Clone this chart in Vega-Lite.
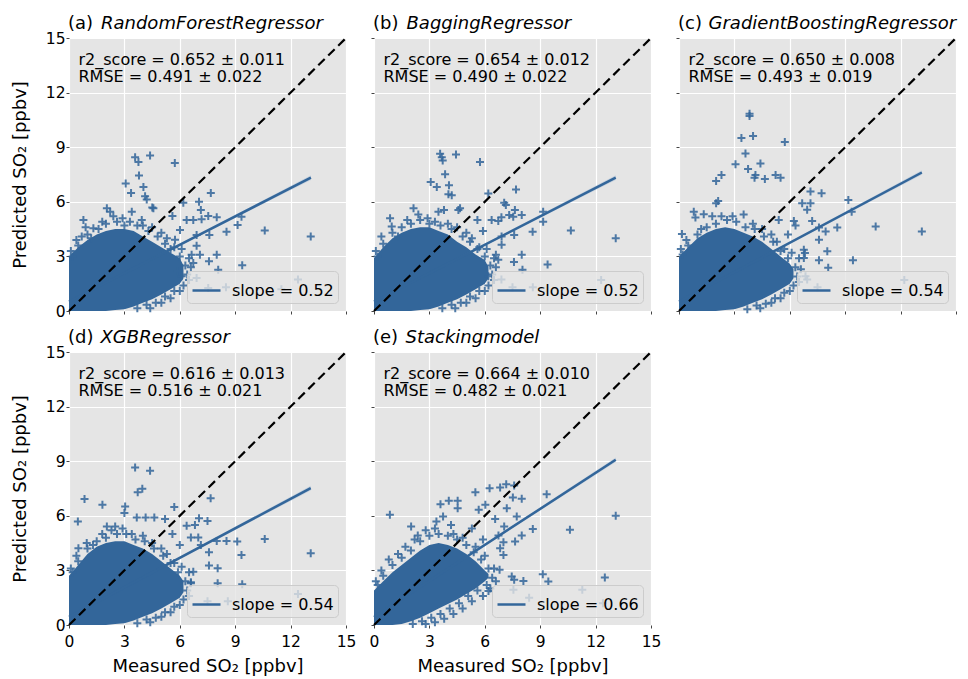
{
"$schema": "https://vega.github.io/schema/vega-lite/v6.json",
"background": "#ffffff",
"padding": {"left": 11, "top": 15, "right": 2, "bottom": 2},
"datasets": {
"ann": [
{"p":"a","tag":"(a)","name":"RandomForestRegressor","stats":"r2_score = 0.652 ± 0.011\nRMSE = 0.491 ± 0.022"},
{"p":"b","tag":"(b)","name":"BaggingRegressor","stats":"r2_score = 0.654 ± 0.012\nRMSE = 0.490 ± 0.022"},
{"p":"c","tag":"(c)","name":"GradientBoostingRegressor","stats":"r2_score = 0.650 ± 0.008\nRMSE = 0.493 ± 0.019"},
{"p":"d","tag":"(d)","name":"XGBRegressor","stats":"r2_score = 0.616 ± 0.013\nRMSE = 0.516 ± 0.021"},
{"p":"e","tag":"(e)","name":"Stackingmodel","stats":"r2_score = 0.664 ± 0.010\nRMSE = 0.482 ± 0.021"}
],
"reg": [
{"p":"a","x":0,"y":0.52,"lo":0.49,"hi":0.55,"s":"slope = 0.52"},
{"p":"a","x":1.5,"y":1.30,"lo":1.29,"hi":1.31,"s":"slope = 0.52"},
{"p":"a","x":13.1,"y":7.33,"lo":7.2,"hi":7.46,"s":"slope = 0.52"},
{"p":"b","x":0,"y":0.52,"lo":0.49,"hi":0.55,"s":"slope = 0.52"},
{"p":"b","x":1.5,"y":1.30,"lo":1.29,"hi":1.31,"s":"slope = 0.52"},
{"p":"b","x":13.09,"y":7.33,"lo":7.2,"hi":7.46,"s":"slope = 0.52"},
{"p":"c","x":0,"y":0.51,"lo":0.48,"hi":0.54,"s":"slope = 0.54"},
{"p":"c","x":1.5,"y":1.32,"lo":1.31,"hi":1.33,"s":"slope = 0.54"},
{"p":"c","x":13.15,"y":7.61,"lo":7.48,"hi":7.74,"s":"slope = 0.54"},
{"p":"d","x":0,"y":0.45,"lo":0.42,"hi":0.48,"s":"slope = 0.54"},
{"p":"d","x":1.5,"y":1.26,"lo":1.25,"hi":1.27,"s":"slope = 0.54"},
{"p":"d","x":13.09,"y":7.52,"lo":7.39,"hi":7.65,"s":"slope = 0.54"},
{"p":"e","x":0,"y":0.44,"lo":0.41,"hi":0.47,"s":"slope = 0.66"},
{"p":"e","x":1.5,"y":1.43,"lo":1.42,"hi":1.44,"s":"slope = 0.66"},
{"p":"e","x":13.09,"y":9.08,"lo":8.95,"hi":9.21,"s":"slope = 0.66"}
],
"core": [
{"p":"a","x":0,"lo":0,"hi":3.0},{"p":"a","x":0.5,"lo":0,"hi":3.5},{"p":"a","x":1,"lo":0,"hi":3.9},{"p":"a","x":1.5,"lo":0,"hi":4.2},{"p":"a","x":2,"lo":0,"hi":4.4},{"p":"a","x":2.5,"lo":0.05,"hi":4.5},{"p":"a","x":3,"lo":0.1,"hi":4.5},{"p":"a","x":3.5,"lo":0.25,"hi":4.4},{"p":"a","x":4,"lo":0.45,"hi":4.1},{"p":"a","x":4.5,"lo":0.65,"hi":3.8},{"p":"a","x":5,"lo":0.9,"hi":3.5},{"p":"a","x":5.5,"lo":1.2,"hi":3.2},{"p":"a","x":6,"lo":1.5,"hi":2.9},{"p":"a","x":6.2,"lo":1.8,"hi":2.5},
{"p":"b","x":0,"lo":0,"hi":2.9},{"p":"b","x":0.5,"lo":0,"hi":3.5},{"p":"b","x":1,"lo":0,"hi":4.0},{"p":"b","x":1.5,"lo":0,"hi":4.3},{"p":"b","x":2,"lo":0,"hi":4.5},{"p":"b","x":2.5,"lo":0.05,"hi":4.6},{"p":"b","x":3,"lo":0.1,"hi":4.6},{"p":"b","x":3.5,"lo":0.25,"hi":4.4},{"p":"b","x":4,"lo":0.45,"hi":4.2},{"p":"b","x":4.5,"lo":0.65,"hi":3.8},{"p":"b","x":5,"lo":0.9,"hi":3.5},{"p":"b","x":5.5,"lo":1.2,"hi":3.1},{"p":"b","x":6,"lo":1.5,"hi":2.8},{"p":"b","x":6.2,"lo":1.8,"hi":2.4},
{"p":"c","x":0,"lo":0,"hi":3.0},{"p":"c","x":0.5,"lo":0,"hi":3.5},{"p":"c","x":1,"lo":0,"hi":4.0},{"p":"c","x":1.5,"lo":0,"hi":4.3},{"p":"c","x":2,"lo":0,"hi":4.5},{"p":"c","x":2.5,"lo":0.05,"hi":4.6},{"p":"c","x":3,"lo":0.1,"hi":4.5},{"p":"c","x":3.5,"lo":0.25,"hi":4.3},{"p":"c","x":4,"lo":0.45,"hi":4.1},{"p":"c","x":4.5,"lo":0.65,"hi":3.8},{"p":"c","x":5,"lo":0.9,"hi":3.4},{"p":"c","x":5.5,"lo":1.2,"hi":3.0},{"p":"c","x":6,"lo":1.5,"hi":2.6},{"p":"c","x":6.2,"lo":1.8,"hi":2.3},
{"p":"d","x":0,"lo":0,"hi":2.7},{"p":"d","x":0.5,"lo":0,"hi":3.3},{"p":"d","x":1,"lo":0,"hi":3.9},{"p":"d","x":1.5,"lo":0,"hi":4.3},{"p":"d","x":2,"lo":0,"hi":4.5},{"p":"d","x":2.5,"lo":0.05,"hi":4.6},{"p":"d","x":3,"lo":0.1,"hi":4.6},{"p":"d","x":3.5,"lo":0.25,"hi":4.4},{"p":"d","x":4,"lo":0.45,"hi":4.2},{"p":"d","x":4.5,"lo":0.65,"hi":3.9},{"p":"d","x":5,"lo":0.9,"hi":3.5},{"p":"d","x":5.5,"lo":1.2,"hi":3.1},{"p":"d","x":6,"lo":1.5,"hi":2.7},{"p":"d","x":6.2,"lo":1.8,"hi":2.4},
{"p":"e","x":0,"lo":0,"hi":1.9},{"p":"e","x":0.5,"lo":0,"hi":2.4},{"p":"e","x":1,"lo":0,"hi":2.9},{"p":"e","x":1.5,"lo":0.05,"hi":3.3},{"p":"e","x":2,"lo":0.2,"hi":3.7},{"p":"e","x":2.5,"lo":0.4,"hi":4.1},{"p":"e","x":3,"lo":0.65,"hi":4.4},{"p":"e","x":3.5,"lo":0.9,"hi":4.5},{"p":"e","x":4,"lo":1.15,"hi":4.4},{"p":"e","x":4.5,"lo":1.4,"hi":4.2},{"p":"e","x":5,"lo":1.7,"hi":3.9},{"p":"e","x":5.5,"lo":2.0,"hi":3.5},{"p":"e","x":6,"lo":2.4,"hi":3.0},{"p":"e","x":6.2,"lo":2.6,"hi":2.8}
],
"pts": [
{"p":"a","x":3.58,"y":8.45},{"p":"a","x":4.39,"y":8.55},{"p":"a","x":3.76,"y":8.18},{"p":"a","x":5.73,"y":8.13},{"p":"a","x":3.79,"y":7.45},{"p":"a","x":3.07,"y":7.0},{"p":"a","x":3.36,"y":6.49},{"p":"a","x":4.03,"y":6.82},{"p":"a","x":4.12,"y":6.31},{"p":"a","x":4.21,"y":6.13},{"p":"a","x":7.68,"y":6.49},{"p":"a","x":6.19,"y":5.95},{"p":"a","x":7.04,"y":6.0},{"p":"a","x":7.14,"y":5.55},{"p":"a","x":4.57,"y":5.64},{"p":"a","x":7.54,"y":5.22},{"p":"a","x":8.0,"y":5.15},{"p":"a","x":6.37,"y":5.0},{"p":"a","x":6.73,"y":5.0},{"p":"a","x":7.18,"y":5.04},{"p":"a","x":9.34,"y":5.18},{"p":"a","x":9.13,"y":4.73},{"p":"a","x":8.53,"y":4.36},{"p":"a","x":10.6,"y":4.42},{"p":"a","x":13.09,"y":4.09},{"p":"a","x":7.6,"y":4.18},{"p":"a","x":6.91,"y":4.18},{"p":"a","x":6.91,"y":3.58},{"p":"a","x":6.64,"y":3.09},{"p":"a","x":7.09,"y":3.09},{"p":"a","x":8.0,"y":3.09},{"p":"a","x":7.58,"y":2.73},{"p":"a","x":6.73,"y":2.64},{"p":"a","x":8.08,"y":2.27},{"p":"a","x":9.38,"y":2.51},{"p":"a","x":6.1,"y":1.91},{"p":"a","x":6.91,"y":1.82},{"p":"a","x":7.54,"y":1.27},{"p":"a","x":12.4,"y":1.73},{"p":"a","x":8.5,"y":1.3},{"p":"a","x":11.5,"y":1.2},
{"p":"a","x":0.78,"y":5.0},{"p":"a","x":0.69,"y":4.09},{"p":"a","x":1.32,"y":4.55},{"p":"a","x":2.05,"y":5.64},{"p":"a","x":2.23,"y":5.45},{"p":"a","x":3.4,"y":5.45},{"p":"a","x":3.94,"y":5.0},{"p":"a","x":4.51,"y":5.69},{"p":"a","x":5.6,"y":5.22},{"p":"a","x":6.01,"y":4.45},{"p":"a","x":5.74,"y":3.91},{"p":"a","x":0.2,"y":3.0},{"p":"a","x":0.5,"y":3.6},{"p":"a","x":1.0,"y":4.2},{"p":"a","x":1.6,"y":4.5},{"p":"a","x":2.0,"y":4.8},{"p":"a","x":2.6,"y":4.9},{"p":"a","x":3.0,"y":4.7},{"p":"a","x":3.7,"y":4.7},{"p":"a","x":4.3,"y":4.4},{"p":"a","x":4.8,"y":4.1},{"p":"a","x":5.2,"y":3.7},{"p":"a","x":5.5,"y":3.4},{"p":"a","x":6.0,"y":3.0},{"p":"a","x":6.3,"y":2.5},{"p":"a","x":6.4,"y":2.0},{"p":"a","x":6.2,"y":1.4},{"p":"a","x":5.7,"y":1.1},{"p":"a","x":5.2,"y":0.8},{"p":"a","x":4.7,"y":0.45},{"p":"a","x":4.2,"y":0.35},{"p":"a","x":3.7,"y":0.15},{"p":"a","x":6.5,"y":2.9},{"p":"a","x":5.9,"y":2.2},
{"p":"a","x":0.1,"y":3.3},{"p":"a","x":0.4,"y":3.9},{"p":"a","x":0.9,"y":4.6},{"p":"a","x":1.2,"y":4.0},{"p":"a","x":1.8,"y":4.9},{"p":"a","x":2.4,"y":5.2},{"p":"a","x":2.9,"y":5.1},{"p":"a","x":3.3,"y":4.9},{"p":"a","x":4.0,"y":4.7},{"p":"a","x":4.5,"y":4.6},{"p":"a","x":5.0,"y":4.3},{"p":"a","x":5.3,"y":4.0},{"p":"a","x":5.7,"y":3.5},{"p":"a","x":6.1,"y":3.4},{"p":"a","x":6.6,"y":2.4},{"p":"a","x":6.5,"y":1.7},{"p":"a","x":6.0,"y":1.1},{"p":"a","x":5.5,"y":0.7},{"p":"a","x":5.0,"y":0.45},{"p":"a","x":4.4,"y":0.15},
{"p":"b","x":3.58,"y":8.64},{"p":"b","x":3.67,"y":8.45},{"p":"b","x":3.72,"y":8.27},{"p":"b","x":4.44,"y":8.6},{"p":"b","x":5.74,"y":8.18},{"p":"b","x":3.85,"y":7.51},{"p":"b","x":3.07,"y":7.09},{"p":"b","x":3.4,"y":6.82},{"p":"b","x":4.06,"y":6.91},{"p":"b","x":4.03,"y":6.42},{"p":"b","x":4.21,"y":6.36},{"p":"b","x":6.19,"y":6.45},{"p":"b","x":7.69,"y":6.67},{"p":"b","x":7.05,"y":5.95},{"p":"b","x":7.14,"y":5.82},{"p":"b","x":4.57,"y":5.55},{"p":"b","x":4.66,"y":5.64},{"p":"b","x":2.14,"y":5.64},{"p":"b","x":3.49,"y":5.45},{"p":"b","x":3.79,"y":5.55},{"p":"b","x":7.63,"y":5.55},{"p":"b","x":7.32,"y":5.27},{"p":"b","x":7.54,"y":5.18},{"p":"b","x":8.0,"y":5.27},{"p":"b","x":6.37,"y":5.0},{"p":"b","x":6.73,"y":4.95},{"p":"b","x":6.9,"y":5.15},{"p":"b","x":9.16,"y":5.45},{"p":"b","x":9.16,"y":4.91},{"p":"b","x":8.59,"y":4.36},{"p":"b","x":10.66,"y":4.42},{"p":"b","x":13.09,"y":4.0},{"p":"b","x":7.59,"y":4.18},{"p":"b","x":6.91,"y":4.09},{"p":"b","x":6.91,"y":3.64},{"p":"b","x":6.6,"y":3.09},{"p":"b","x":6.73,"y":2.82},{"p":"b","x":8.0,"y":3.09},{"p":"b","x":7.58,"y":2.69},{"p":"b","x":8.04,"y":2.27},{"p":"b","x":9.4,"y":2.55},{"p":"b","x":6.19,"y":1.91},{"p":"b","x":6.9,"y":1.73},{"p":"b","x":0.87,"y":5.09},{"p":"b","x":0.96,"y":4.64},{"p":"b","x":7.5,"y":1.3},{"p":"b","x":12.3,"y":1.7},{"p":"b","x":8.6,"y":1.3},
{"p":"b","x":0.2,"y":3.0},{"p":"b","x":0.5,"y":3.7},{"p":"b","x":1.0,"y":4.3},{"p":"b","x":1.5,"y":4.6},{"p":"b","x":2.0,"y":4.8},{"p":"b","x":2.5,"y":5.0},{"p":"b","x":3.0,"y":4.8},{"p":"b","x":3.6,"y":4.7},{"p":"b","x":4.2,"y":4.5},{"p":"b","x":4.8,"y":4.1},{"p":"b","x":5.2,"y":3.8},{"p":"b","x":5.6,"y":3.4},{"p":"b","x":6.0,"y":3.0},{"p":"b","x":6.3,"y":2.5},{"p":"b","x":6.4,"y":2.0},{"p":"b","x":6.2,"y":1.4},{"p":"b","x":5.7,"y":1.1},{"p":"b","x":5.2,"y":0.8},{"p":"b","x":4.7,"y":0.45},{"p":"b","x":4.2,"y":0.35},{"p":"b","x":3.7,"y":0.15},{"p":"b","x":5.6,"y":5.0},{"p":"b","x":5.9,"y":4.4},{"p":"b","x":6.5,"y":2.9},
{"p":"b","x":0.1,"y":3.3},{"p":"b","x":0.4,"y":4.1},{"p":"b","x":1.3,"y":4.1},{"p":"b","x":1.8,"y":5.0},{"p":"b","x":2.4,"y":5.3},{"p":"b","x":2.9,"y":5.1},{"p":"b","x":3.3,"y":4.9},{"p":"b","x":4.0,"y":4.8},{"p":"b","x":4.5,"y":4.6},{"p":"b","x":5.0,"y":4.3},{"p":"b","x":5.3,"y":4.0},{"p":"b","x":5.7,"y":3.5},{"p":"b","x":6.1,"y":3.4},{"p":"b","x":6.6,"y":2.4},{"p":"b","x":6.5,"y":1.7},{"p":"b","x":6.0,"y":1.1},{"p":"b","x":5.5,"y":0.7},{"p":"b","x":5.0,"y":0.45},{"p":"b","x":4.4,"y":0.15},
{"p":"c","x":3.82,"y":10.84},{"p":"c","x":3.82,"y":10.71},{"p":"c","x":3.38,"y":9.51},{"p":"c","x":4.01,"y":9.62},{"p":"c","x":5.73,"y":9.29},{"p":"c","x":3.6,"y":8.65},{"p":"c","x":3.06,"y":8.07},{"p":"c","x":4.41,"y":8.11},{"p":"c","x":3.74,"y":7.8},{"p":"c","x":4.14,"y":7.47},{"p":"c","x":4.09,"y":7.32},{"p":"c","x":4.65,"y":7.25},{"p":"c","x":5.23,"y":7.47},{"p":"c","x":5.5,"y":7.32},{"p":"c","x":2.01,"y":7.14},{"p":"c","x":2.3,"y":7.47},{"p":"c","x":7.12,"y":6.56},{"p":"c","x":7.72,"y":6.47},{"p":"c","x":9.17,"y":6.1},{"p":"c","x":6.67,"y":5.92},{"p":"c","x":7.12,"y":5.92},{"p":"c","x":6.94,"y":5.56},{"p":"c","x":2.01,"y":5.92},{"p":"c","x":2.12,"y":6.05},{"p":"c","x":0.8,"y":5.46},{"p":"c","x":1.34,"y":5.32},{"p":"c","x":0.89,"y":5.14},{"p":"c","x":9.35,"y":5.46},{"p":"c","x":6.22,"y":4.95},{"p":"c","x":6.31,"y":4.7},{"p":"c","x":7.21,"y":4.95},{"p":"c","x":8.57,"y":4.59},{"p":"c","x":10.65,"y":4.64},{"p":"c","x":13.15,"y":4.37},{"p":"c","x":7.58,"y":4.59},{"p":"c","x":7.94,"y":4.37},{"p":"c","x":7.58,"y":3.92},{"p":"c","x":0.16,"y":4.23},{"p":"c","x":6.76,"y":3.37},{"p":"c","x":6.82,"y":3.19},{"p":"c","x":8.03,"y":3.28},{"p":"c","x":6.76,"y":2.91},{"p":"c","x":7.58,"y":2.79},{"p":"c","x":9.42,"y":2.79},{"p":"c","x":8.08,"y":2.37},{"p":"c","x":6.85,"y":1.91},{"p":"c","x":6.94,"y":1.73},{"p":"c","x":7.5,"y":1.3},{"p":"c","x":12.2,"y":1.7},
{"p":"c","x":0.2,"y":3.1},{"p":"c","x":0.5,"y":3.6},{"p":"c","x":1.0,"y":4.2},{"p":"c","x":1.5,"y":4.6},{"p":"c","x":2.0,"y":4.8},{"p":"c","x":2.6,"y":5.0},{"p":"c","x":3.1,"y":4.9},{"p":"c","x":3.6,"y":4.6},{"p":"c","x":4.1,"y":4.5},{"p":"c","x":4.6,"y":4.1},{"p":"c","x":5.1,"y":3.8},{"p":"c","x":5.5,"y":3.3},{"p":"c","x":5.9,"y":2.9},{"p":"c","x":6.3,"y":2.4},{"p":"c","x":6.4,"y":1.9},{"p":"c","x":6.2,"y":1.4},{"p":"c","x":5.7,"y":1.0},{"p":"c","x":5.2,"y":0.7},{"p":"c","x":4.7,"y":0.4},{"p":"c","x":4.2,"y":0.3},{"p":"c","x":3.7,"y":0.1},{"p":"c","x":5.4,"y":5.0},{"p":"c","x":5.9,"y":4.2},{"p":"c","x":6.5,"y":2.9},{"p":"c","x":3.5,"y":5.3},{"p":"c","x":1.8,"y":5.2},
{"p":"c","x":0.1,"y":3.4},{"p":"c","x":0.4,"y":3.9},{"p":"c","x":1.2,"y":4.5},{"p":"c","x":2.3,"y":5.2},{"p":"c","x":2.9,"y":5.2},{"p":"c","x":4.0,"y":4.8},{"p":"c","x":4.5,"y":4.5},{"p":"c","x":5.0,"y":4.2},{"p":"c","x":5.3,"y":3.8},{"p":"c","x":5.7,"y":3.4},{"p":"c","x":6.1,"y":3.2},{"p":"c","x":6.6,"y":2.3},{"p":"c","x":6.5,"y":1.6},{"p":"c","x":6.0,"y":1.1},{"p":"c","x":5.5,"y":0.7},{"p":"c","x":5.0,"y":0.45},{"p":"c","x":4.4,"y":0.15},
{"p":"d","x":3.58,"y":8.66},{"p":"d","x":4.39,"y":8.48},{"p":"d","x":3.97,"y":7.49},{"p":"d","x":3.72,"y":7.3},{"p":"d","x":0.84,"y":6.92},{"p":"d","x":1.81,"y":6.61},{"p":"d","x":3.04,"y":6.51},{"p":"d","x":3.0,"y":6.15},{"p":"d","x":5.7,"y":6.48},{"p":"d","x":7.67,"y":6.97},{"p":"d","x":0.48,"y":5.69},{"p":"d","x":7.04,"y":5.87},{"p":"d","x":7.5,"y":5.72},{"p":"d","x":6.37,"y":5.45},{"p":"d","x":6.82,"y":5.5},{"p":"d","x":3.67,"y":5.91},{"p":"d","x":4.15,"y":5.91},{"p":"d","x":4.62,"y":5.91},{"p":"d","x":5.2,"y":5.83},{"p":"d","x":2.05,"y":5.41},{"p":"d","x":2.5,"y":5.41},{"p":"d","x":6.6,"y":4.81},{"p":"d","x":7.0,"y":4.81},{"p":"d","x":7.14,"y":4.4},{"p":"d","x":8.0,"y":4.62},{"p":"d","x":8.53,"y":4.62},{"p":"d","x":9.11,"y":4.59},{"p":"d","x":10.6,"y":4.73},{"p":"d","x":13.09,"y":3.94},{"p":"d","x":7.58,"y":4.0},{"p":"d","x":9.34,"y":3.85},{"p":"d","x":7.58,"y":3.27},{"p":"d","x":8.05,"y":3.12},{"p":"d","x":6.73,"y":2.92},{"p":"d","x":6.6,"y":2.35},{"p":"d","x":8.05,"y":2.29},{"p":"d","x":9.38,"y":2.24},{"p":"d","x":0.51,"y":4.22},{"p":"d","x":0.96,"y":4.5},{"p":"d","x":7.5,"y":1.3},{"p":"d","x":12.4,"y":1.7},{"p":"d","x":8.6,"y":1.3},
{"p":"d","x":0.2,"y":2.9},{"p":"d","x":0.5,"y":3.5},{"p":"d","x":1.0,"y":4.2},{"p":"d","x":1.5,"y":4.6},{"p":"d","x":2.0,"y":4.8},{"p":"d","x":2.6,"y":5.0},{"p":"d","x":3.1,"y":5.0},{"p":"d","x":3.6,"y":4.7},{"p":"d","x":4.1,"y":4.6},{"p":"d","x":4.6,"y":4.2},{"p":"d","x":5.1,"y":3.8},{"p":"d","x":5.5,"y":3.4},{"p":"d","x":5.9,"y":2.9},{"p":"d","x":6.3,"y":2.4},{"p":"d","x":6.4,"y":1.9},{"p":"d","x":6.2,"y":1.4},{"p":"d","x":5.7,"y":1.0},{"p":"d","x":5.2,"y":0.7},{"p":"d","x":4.7,"y":0.4},{"p":"d","x":4.2,"y":0.3},{"p":"d","x":3.7,"y":0.1},{"p":"d","x":5.6,"y":5.0},{"p":"d","x":6.0,"y":4.4},{"p":"d","x":6.5,"y":2.9},
{"p":"d","x":0.1,"y":3.1},{"p":"d","x":0.4,"y":3.8},{"p":"d","x":1.3,"y":4.4},{"p":"d","x":1.8,"y":5.0},{"p":"d","x":2.3,"y":5.2},{"p":"d","x":2.9,"y":5.3},{"p":"d","x":3.4,"y":5.0},{"p":"d","x":4.0,"y":4.9},{"p":"d","x":4.5,"y":4.5},{"p":"d","x":5.0,"y":4.2},{"p":"d","x":5.3,"y":3.9},{"p":"d","x":5.7,"y":3.4},{"p":"d","x":6.1,"y":3.2},{"p":"d","x":6.6,"y":2.3},{"p":"d","x":6.5,"y":1.6},{"p":"d","x":6.0,"y":1.1},{"p":"d","x":5.5,"y":0.7},{"p":"d","x":5.0,"y":0.45},{"p":"d","x":4.4,"y":0.15},
{"p":"e","x":0.86,"y":6.06},{"p":"e","x":2.01,"y":5.41},{"p":"e","x":2.37,"y":4.92},{"p":"e","x":3.6,"y":6.64},{"p":"e","x":4.05,"y":6.83},{"p":"e","x":4.53,"y":6.83},{"p":"e","x":4.53,"y":6.42},{"p":"e","x":3.74,"y":5.96},{"p":"e","x":4.17,"y":5.5},{"p":"e","x":3.38,"y":5.69},{"p":"e","x":5.49,"y":7.3},{"p":"e","x":6.26,"y":7.52},{"p":"e","x":6.83,"y":7.56},{"p":"e","x":7.16,"y":7.74},{"p":"e","x":7.59,"y":7.67},{"p":"e","x":7.52,"y":7.01},{"p":"e","x":8.0,"y":6.94},{"p":"e","x":6.03,"y":6.61},{"p":"e","x":5.67,"y":6.33},{"p":"e","x":7.19,"y":6.42},{"p":"e","x":7.73,"y":5.96},{"p":"e","x":9.35,"y":7.19},{"p":"e","x":10.61,"y":5.23},{"p":"e","x":13.09,"y":6.0},{"p":"e","x":6.56,"y":5.83},{"p":"e","x":7.05,"y":5.41},{"p":"e","x":8.6,"y":5.28},{"p":"e","x":8.0,"y":4.92},{"p":"e","x":7.64,"y":4.59},{"p":"e","x":7.01,"y":4.55},{"p":"e","x":6.74,"y":4.92},{"p":"e","x":6.83,"y":4.22},{"p":"e","x":7.01,"y":3.85},{"p":"e","x":6.8,"y":3.03},{"p":"e","x":7.46,"y":2.66},{"p":"e","x":7.59,"y":2.48},{"p":"e","x":8.09,"y":2.42},{"p":"e","x":9.14,"y":2.79},{"p":"e","x":9.44,"y":2.39},{"p":"e","x":12.5,"y":2.61},{"p":"e","x":11.28,"y":1.93},{"p":"e","x":6.2,"y":1.87},{"p":"e","x":7.55,"y":1.93},{"p":"e","x":8.4,"y":1.5},{"p":"e","x":12.4,"y":1.2},
{"p":"e","x":0.2,"y":2.2},{"p":"e","x":0.5,"y":2.7},{"p":"e","x":1.0,"y":3.3},{"p":"e","x":1.5,"y":3.7},{"p":"e","x":2.0,"y":4.1},{"p":"e","x":2.5,"y":4.6},{"p":"e","x":3.0,"y":4.9},{"p":"e","x":3.5,"y":5.0},{"p":"e","x":4.0,"y":4.9},{"p":"e","x":4.5,"y":4.7},{"p":"e","x":5.0,"y":4.4},{"p":"e","x":5.4,"y":4.0},{"p":"e","x":5.8,"y":3.6},{"p":"e","x":6.2,"y":3.1},{"p":"e","x":6.4,"y":2.6},{"p":"e","x":6.1,"y":2.2},{"p":"e","x":5.6,"y":1.9},{"p":"e","x":5.1,"y":1.6},{"p":"e","x":4.6,"y":1.2},{"p":"e","x":4.1,"y":0.9},{"p":"e","x":3.6,"y":0.6},{"p":"e","x":3.1,"y":0.4},{"p":"e","x":2.6,"y":0.2},{"p":"e","x":2.1,"y":0.05},{"p":"e","x":5.3,"y":5.3},{"p":"e","x":5.9,"y":4.7},
{"p":"e","x":0.1,"y":2.4},{"p":"e","x":0.4,"y":3.0},{"p":"e","x":0.8,"y":3.6},{"p":"e","x":1.3,"y":3.9},{"p":"e","x":1.7,"y":4.3},{"p":"e","x":2.2,"y":4.7},{"p":"e","x":2.8,"y":5.2},{"p":"e","x":3.3,"y":5.3},{"p":"e","x":4.3,"y":5.0},{"p":"e","x":4.8,"y":4.8},{"p":"e","x":5.5,"y":4.3},{"p":"e","x":6.0,"y":3.8},{"p":"e","x":6.5,"y":3.1},{"p":"e","x":6.6,"y":2.4},{"p":"e","x":6.3,"y":2.0},{"p":"e","x":5.9,"y":1.6},{"p":"e","x":5.3,"y":1.3},{"p":"e","x":4.8,"y":0.9},{"p":"e","x":4.3,"y":0.6},{"p":"e","x":3.8,"y":0.35},{"p":"e","x":3.3,"y":0.15},{"p":"e","x":2.8,"y":0.05}
]
},
"columns": 3,
"spacing": {"row": 41, "column": 28},
"bounds": "flush",
"resolve": {"scale": {"color": "independent"}, "legend": {"color": "independent"}},
"concat": [
{"width": 277, "height": 273, "layer": [
{"data": {"name": "core"}, "transform": [{"filter": "datum.p === 'a'"}], "mark": {"type": "area", "color": "#33669a"}, "encoding": {"x": {"field": "x", "type": "quantitative", "scale": {"domain": [0, 15], "nice": false}, "axis": {"values": [0,3,6,9,12,15], "labels": false, "title": null}}, "y": {"field": "hi", "type": "quantitative", "scale": {"domain": [0, 15], "nice": false}, "axis": {"values": [0,3,6,9,12,15], "title": "Predicted SO₂ [ppbv]"}}, "y2": {"field": "lo"}}},
{"data": {"name": "pts"}, "transform": [{"filter": "datum.p === 'a'"}], "mark": {"type": "point", "shape": "M-1,0H1M0,-1V1", "filled": false, "color": "#33669a", "strokeWidth": 2, "size": 64, "opacity": 0.85}, "encoding": {"x": {"field": "x", "type": "quantitative"}, "y": {"field": "y", "type": "quantitative"}}},
{"data": {"name": "reg"}, "transform": [{"filter": "datum.p === 'a'"}], "mark": {"type": "area", "color": "#8fb0d0", "opacity": 0.35}, "encoding": {"x": {"field": "x", "type": "quantitative"}, "y": {"field": "lo", "type": "quantitative"}, "y2": {"field": "hi"}}},
{"data": {"name": "reg"}, "transform": [{"filter": "datum.p === 'a'"}], "mark": {"type": "line", "strokeWidth": 2.5}, "encoding": {"x": {"field": "x", "type": "quantitative"}, "y": {"field": "y", "type": "quantitative"}, "color": {"field": "s", "type": "nominal", "scale": {"range": ["#33669a"]}, "legend": {"title": null, "orient": "bottom-right", "offset": 8, "padding": 4, "fillColor": "rgba(229,229,229,0.8)", "strokeColor": "#cccccc", "cornerRadius": 4, "symbolType": "stroke", "symbolSize": 784, "symbolStrokeWidth": 2.5, "labelFont": "DejaVu Sans", "labelFontSize": 16, "labelColor": "#000000", "labelOffset": 10, "labelLimit": 300}}}},
{"data": {"values": [{}]}, "mark": {"type": "rule", "color": "#000000", "strokeWidth": 2.2, "strokeDash": [9, 5]}, "encoding": {"x": {"datum": 0}, "y": {"datum": 0}, "x2": {"datum": 15}, "y2": {"datum": 15}}},
{"data": {"name": "ann"}, "transform": [{"filter": "datum.p === 'a'"}], "mark": {"type": "text", "align": "left", "baseline": "top", "fontSize": 16, "lineHeight": 17, "lineBreak": "\n", "dx": 9.5, "dy": 13.5, "color": "#000000"}, "encoding": {"x": {"datum": 0}, "y": {"datum": 15}, "text": {"field": "stats"}}},
{"data": {"name": "ann"}, "transform": [{"filter": "datum.p === 'a'"}], "mark": {"type": "text", "align": "left", "baseline": "alphabetic", "fontSize": 18, "dx": -1, "dy": -9, "color": "#000000"}, "encoding": {"x": {"datum": 0}, "y": {"datum": 15}, "text": {"field": "tag"}}},
{"data": {"name": "ann"}, "transform": [{"filter": "datum.p === 'a'"}], "mark": {"type": "text", "align": "left", "baseline": "alphabetic", "fontSize": 18, "fontStyle": "italic", "dx": 32, "dy": -9, "color": "#000000"}, "encoding": {"x": {"datum": 0}, "y": {"datum": 15}, "text": {"field": "name"}}}
]},
{"width": 277, "height": 273, "layer": [
{"data": {"name": "core"}, "transform": [{"filter": "datum.p === 'b'"}], "mark": {"type": "area", "color": "#33669a"}, "encoding": {"x": {"field": "x", "type": "quantitative", "scale": {"domain": [0, 15], "nice": false}, "axis": {"values": [0,3,6,9,12,15], "labels": false, "title": null}}, "y": {"field": "hi", "type": "quantitative", "scale": {"domain": [0, 15], "nice": false}, "axis": {"values": [0,3,6,9,12,15], "labels": false, "title": null}}, "y2": {"field": "lo"}}},
{"data": {"name": "pts"}, "transform": [{"filter": "datum.p === 'b'"}], "mark": {"type": "point", "shape": "M-1,0H1M0,-1V1", "filled": false, "color": "#33669a", "strokeWidth": 2, "size": 64, "opacity": 0.85}, "encoding": {"x": {"field": "x", "type": "quantitative"}, "y": {"field": "y", "type": "quantitative"}}},
{"data": {"name": "reg"}, "transform": [{"filter": "datum.p === 'b'"}], "mark": {"type": "area", "color": "#8fb0d0", "opacity": 0.35}, "encoding": {"x": {"field": "x", "type": "quantitative"}, "y": {"field": "lo", "type": "quantitative"}, "y2": {"field": "hi"}}},
{"data": {"name": "reg"}, "transform": [{"filter": "datum.p === 'b'"}], "mark": {"type": "line", "strokeWidth": 2.5}, "encoding": {"x": {"field": "x", "type": "quantitative"}, "y": {"field": "y", "type": "quantitative"}, "color": {"field": "s", "type": "nominal", "scale": {"range": ["#33669a"]}, "legend": {"title": null, "orient": "bottom-right", "offset": 8, "padding": 4, "fillColor": "rgba(229,229,229,0.8)", "strokeColor": "#cccccc", "cornerRadius": 4, "symbolType": "stroke", "symbolSize": 784, "symbolStrokeWidth": 2.5, "labelFont": "DejaVu Sans", "labelFontSize": 16, "labelColor": "#000000", "labelOffset": 10, "labelLimit": 300}}}},
{"data": {"values": [{}]}, "mark": {"type": "rule", "color": "#000000", "strokeWidth": 2.2, "strokeDash": [9, 5]}, "encoding": {"x": {"datum": 0}, "y": {"datum": 0}, "x2": {"datum": 15}, "y2": {"datum": 15}}},
{"data": {"name": "ann"}, "transform": [{"filter": "datum.p === 'b'"}], "mark": {"type": "text", "align": "left", "baseline": "top", "fontSize": 16, "lineHeight": 17, "lineBreak": "\n", "dx": 9.5, "dy": 13.5, "color": "#000000"}, "encoding": {"x": {"datum": 0}, "y": {"datum": 15}, "text": {"field": "stats"}}},
{"data": {"name": "ann"}, "transform": [{"filter": "datum.p === 'b'"}], "mark": {"type": "text", "align": "left", "baseline": "alphabetic", "fontSize": 18, "dx": -1, "dy": -9, "color": "#000000"}, "encoding": {"x": {"datum": 0}, "y": {"datum": 15}, "text": {"field": "tag"}}},
{"data": {"name": "ann"}, "transform": [{"filter": "datum.p === 'b'"}], "mark": {"type": "text", "align": "left", "baseline": "alphabetic", "fontSize": 18, "fontStyle": "italic", "dx": 32.5, "dy": -9, "color": "#000000"}, "encoding": {"x": {"datum": 0}, "y": {"datum": 15}, "text": {"field": "name"}}}
]},
{"width": 277, "height": 273, "layer": [
{"data": {"name": "core"}, "transform": [{"filter": "datum.p === 'c'"}], "mark": {"type": "area", "color": "#33669a"}, "encoding": {"x": {"field": "x", "type": "quantitative", "scale": {"domain": [0, 15], "nice": false}, "axis": {"values": [0,3,6,9,12,15], "labels": false, "title": null}}, "y": {"field": "hi", "type": "quantitative", "scale": {"domain": [0, 15], "nice": false}, "axis": {"values": [0,3,6,9,12,15], "labels": false, "title": null}}, "y2": {"field": "lo"}}},
{"data": {"name": "pts"}, "transform": [{"filter": "datum.p === 'c'"}], "mark": {"type": "point", "shape": "M-1,0H1M0,-1V1", "filled": false, "color": "#33669a", "strokeWidth": 2, "size": 64, "opacity": 0.85}, "encoding": {"x": {"field": "x", "type": "quantitative"}, "y": {"field": "y", "type": "quantitative"}}},
{"data": {"name": "reg"}, "transform": [{"filter": "datum.p === 'c'"}], "mark": {"type": "area", "color": "#8fb0d0", "opacity": 0.35}, "encoding": {"x": {"field": "x", "type": "quantitative"}, "y": {"field": "lo", "type": "quantitative"}, "y2": {"field": "hi"}}},
{"data": {"name": "reg"}, "transform": [{"filter": "datum.p === 'c'"}], "mark": {"type": "line", "strokeWidth": 2.5}, "encoding": {"x": {"field": "x", "type": "quantitative"}, "y": {"field": "y", "type": "quantitative"}, "color": {"field": "s", "type": "nominal", "scale": {"range": ["#33669a"]}, "legend": {"title": null, "orient": "bottom-right", "offset": 8, "padding": 4, "fillColor": "rgba(229,229,229,0.8)", "strokeColor": "#cccccc", "cornerRadius": 4, "symbolType": "stroke", "symbolSize": 784, "symbolStrokeWidth": 2.5, "labelFont": "DejaVu Sans", "labelFontSize": 16, "labelColor": "#000000", "labelOffset": 10, "labelLimit": 300}}}},
{"data": {"values": [{}]}, "mark": {"type": "rule", "color": "#000000", "strokeWidth": 2.2, "strokeDash": [9, 5]}, "encoding": {"x": {"datum": 0}, "y": {"datum": 0}, "x2": {"datum": 15}, "y2": {"datum": 15}}},
{"data": {"name": "ann"}, "transform": [{"filter": "datum.p === 'c'"}], "mark": {"type": "text", "align": "left", "baseline": "top", "fontSize": 16, "lineHeight": 17, "lineBreak": "\n", "dx": 9.5, "dy": 13.5, "color": "#000000"}, "encoding": {"x": {"datum": 0}, "y": {"datum": 15}, "text": {"field": "stats"}}},
{"data": {"name": "ann"}, "transform": [{"filter": "datum.p === 'c'"}], "mark": {"type": "text", "align": "left", "baseline": "alphabetic", "fontSize": 18, "dx": -1, "dy": -9, "color": "#000000"}, "encoding": {"x": {"datum": 0}, "y": {"datum": 15}, "text": {"field": "tag"}}},
{"data": {"name": "ann"}, "transform": [{"filter": "datum.p === 'c'"}], "mark": {"type": "text", "align": "left", "baseline": "alphabetic", "fontSize": 18, "fontStyle": "italic", "dx": 29.5, "dy": -9, "color": "#000000"}, "encoding": {"x": {"datum": 0}, "y": {"datum": 15}, "text": {"field": "name"}}}
]},
{"width": 277, "height": 273, "layer": [
{"data": {"name": "core"}, "transform": [{"filter": "datum.p === 'd'"}], "mark": {"type": "area", "color": "#33669a"}, "encoding": {"x": {"field": "x", "type": "quantitative", "scale": {"domain": [0, 15], "nice": false}, "axis": {"values": [0,3,6,9,12,15], "title": "Measured SO₂ [ppbv]"}}, "y": {"field": "hi", "type": "quantitative", "scale": {"domain": [0, 15], "nice": false}, "axis": {"values": [0,3,6,9,12,15], "title": "Predicted SO₂ [ppbv]"}}, "y2": {"field": "lo"}}},
{"data": {"name": "pts"}, "transform": [{"filter": "datum.p === 'd'"}], "mark": {"type": "point", "shape": "M-1,0H1M0,-1V1", "filled": false, "color": "#33669a", "strokeWidth": 2, "size": 64, "opacity": 0.85}, "encoding": {"x": {"field": "x", "type": "quantitative"}, "y": {"field": "y", "type": "quantitative"}}},
{"data": {"name": "reg"}, "transform": [{"filter": "datum.p === 'd'"}], "mark": {"type": "area", "color": "#8fb0d0", "opacity": 0.35}, "encoding": {"x": {"field": "x", "type": "quantitative"}, "y": {"field": "lo", "type": "quantitative"}, "y2": {"field": "hi"}}},
{"data": {"name": "reg"}, "transform": [{"filter": "datum.p === 'd'"}], "mark": {"type": "line", "strokeWidth": 2.5}, "encoding": {"x": {"field": "x", "type": "quantitative"}, "y": {"field": "y", "type": "quantitative"}, "color": {"field": "s", "type": "nominal", "scale": {"range": ["#33669a"]}, "legend": {"title": null, "orient": "bottom-right", "offset": 8, "padding": 4, "fillColor": "rgba(229,229,229,0.8)", "strokeColor": "#cccccc", "cornerRadius": 4, "symbolType": "stroke", "symbolSize": 784, "symbolStrokeWidth": 2.5, "labelFont": "DejaVu Sans", "labelFontSize": 16, "labelColor": "#000000", "labelOffset": 10, "labelLimit": 300}}}},
{"data": {"values": [{}]}, "mark": {"type": "rule", "color": "#000000", "strokeWidth": 2.2, "strokeDash": [9, 5]}, "encoding": {"x": {"datum": 0}, "y": {"datum": 0}, "x2": {"datum": 15}, "y2": {"datum": 15}}},
{"data": {"name": "ann"}, "transform": [{"filter": "datum.p === 'd'"}], "mark": {"type": "text", "align": "left", "baseline": "top", "fontSize": 16, "lineHeight": 17, "lineBreak": "\n", "dx": 9.5, "dy": 13.5, "color": "#000000"}, "encoding": {"x": {"datum": 0}, "y": {"datum": 15}, "text": {"field": "stats"}}},
{"data": {"name": "ann"}, "transform": [{"filter": "datum.p === 'd'"}], "mark": {"type": "text", "align": "left", "baseline": "alphabetic", "fontSize": 18, "dx": -1, "dy": -9, "color": "#000000"}, "encoding": {"x": {"datum": 0}, "y": {"datum": 15}, "text": {"field": "tag"}}},
{"data": {"name": "ann"}, "transform": [{"filter": "datum.p === 'd'"}], "mark": {"type": "text", "align": "left", "baseline": "alphabetic", "fontSize": 18, "fontStyle": "italic", "dx": 31.5, "dy": -9, "color": "#000000"}, "encoding": {"x": {"datum": 0}, "y": {"datum": 15}, "text": {"field": "name"}}}
]},
{"width": 277, "height": 273, "layer": [
{"data": {"name": "core"}, "transform": [{"filter": "datum.p === 'e'"}], "mark": {"type": "area", "color": "#33669a"}, "encoding": {"x": {"field": "x", "type": "quantitative", "scale": {"domain": [0, 15], "nice": false}, "axis": {"values": [0,3,6,9,12,15], "title": "Measured SO₂ [ppbv]"}}, "y": {"field": "hi", "type": "quantitative", "scale": {"domain": [0, 15], "nice": false}, "axis": {"values": [0,3,6,9,12,15], "labels": false, "title": null}}, "y2": {"field": "lo"}}},
{"data": {"name": "pts"}, "transform": [{"filter": "datum.p === 'e'"}], "mark": {"type": "point", "shape": "M-1,0H1M0,-1V1", "filled": false, "color": "#33669a", "strokeWidth": 2, "size": 64, "opacity": 0.85}, "encoding": {"x": {"field": "x", "type": "quantitative"}, "y": {"field": "y", "type": "quantitative"}}},
{"data": {"name": "reg"}, "transform": [{"filter": "datum.p === 'e'"}], "mark": {"type": "area", "color": "#8fb0d0", "opacity": 0.35}, "encoding": {"x": {"field": "x", "type": "quantitative"}, "y": {"field": "lo", "type": "quantitative"}, "y2": {"field": "hi"}}},
{"data": {"name": "reg"}, "transform": [{"filter": "datum.p === 'e'"}], "mark": {"type": "line", "strokeWidth": 2.5}, "encoding": {"x": {"field": "x", "type": "quantitative"}, "y": {"field": "y", "type": "quantitative"}, "color": {"field": "s", "type": "nominal", "scale": {"range": ["#33669a"]}, "legend": {"title": null, "orient": "bottom-right", "offset": 8, "padding": 4, "fillColor": "rgba(229,229,229,0.8)", "strokeColor": "#cccccc", "cornerRadius": 4, "symbolType": "stroke", "symbolSize": 784, "symbolStrokeWidth": 2.5, "labelFont": "DejaVu Sans", "labelFontSize": 16, "labelColor": "#000000", "labelOffset": 10, "labelLimit": 300}}}},
{"data": {"values": [{}]}, "mark": {"type": "rule", "color": "#000000", "strokeWidth": 2.2, "strokeDash": [9, 5]}, "encoding": {"x": {"datum": 0}, "y": {"datum": 0}, "x2": {"datum": 15}, "y2": {"datum": 15}}},
{"data": {"name": "ann"}, "transform": [{"filter": "datum.p === 'e'"}], "mark": {"type": "text", "align": "left", "baseline": "top", "fontSize": 16, "lineHeight": 17, "lineBreak": "\n", "dx": 9.5, "dy": 13.5, "color": "#000000"}, "encoding": {"x": {"datum": 0}, "y": {"datum": 15}, "text": {"field": "stats"}}},
{"data": {"name": "ann"}, "transform": [{"filter": "datum.p === 'e'"}], "mark": {"type": "text", "align": "left", "baseline": "alphabetic", "fontSize": 18, "dx": -1, "dy": -9, "color": "#000000"}, "encoding": {"x": {"datum": 0}, "y": {"datum": 15}, "text": {"field": "tag"}}},
{"data": {"name": "ann"}, "transform": [{"filter": "datum.p === 'e'"}], "mark": {"type": "text", "align": "left", "baseline": "alphabetic", "fontSize": 18, "fontStyle": "italic", "dx": 31.5, "dy": -9, "color": "#000000"}, "encoding": {"x": {"datum": 0}, "y": {"datum": 15}, "text": {"field": "name"}}}
]}
],
"config": {
"font": "DejaVu Sans",
"view": {"stroke": null, "fill": "#E5E5E5"},
"text": {"font": "DejaVu Sans"},
"axis": {"grid": true, "gridColor": "#ffffff", "gridWidth": 1.2, "domain": false, "ticks": true, "tickColor": "#444444", "tickSize": 3, "tickWidth": 1, "labelFont": "DejaVu Sans", "labelFontSize": 15.5, "labelColor": "#000000", "labelFlush": false, "labelOverlap": false, "titleFont": "DejaVu Sans", "titleFontSize": 18, "titleFontWeight": "normal", "titleColor": "#000000"},
"axisX": {"labelPadding": 6, "titlePadding": 8},
"axisY": {"labelPadding": 1, "titlePadding": 16},
"legend": {"labelFont": "DejaVu Sans"}
}
}
